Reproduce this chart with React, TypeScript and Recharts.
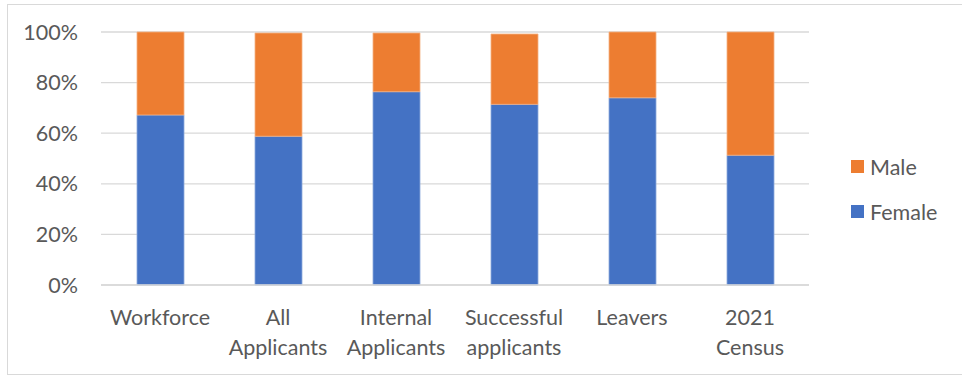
import { Bar, BarChart, CartesianGrid, XAxis, YAxis } from 'recharts';

const categories = [
  'Workforce',
  'All Applicants',
  'Internal Applicants',
  'Successful applicants',
  'Leavers',
  '2021 Census',
];
const female = [67.2, 58.8, 76.4, 71.4, 74.0, 51.3];
const male = [32.8, 40.8, 23.2, 27.8, 26.0, 48.7];
const yTicks = [0, 20, 40, 60, 80, 100];

const data = categories.map((name, i) => ({ name, Female: female[i], Male: male[i] }));

const FONT = 'Lato, "Open Sans", sans-serif';
const TEXT = '#595959';
const FS = 21.5;

function CategoryTick({ x, y, payload }: any) {
  const lines = String(payload.value).split(' ');
  return (
    <text x={x} y={y} textAnchor="middle" fill={TEXT} fontFamily={FONT} fontSize={FS}>
      {lines.map((line, i) => (
        <tspan key={i} x={x} dy={i === 0 ? 32 : 30}>
          {line}
        </tspan>
      ))}
    </text>
  );
}

function LegendBox() {
  const items = [
    { label: 'Male', color: '#ED7D31' },
    { label: 'Female', color: '#4472C4' },
  ];
  return (
    <div
      style={{
        position: 'absolute',
        left: 851,
        top: 144,
        fontFamily: FONT,
        fontSize: FS,
        color: TEXT,
      }}
    >
      {items.map((it) => (
        <div key={it.label} style={{ display: 'flex', alignItems: 'center', height: 45 }}>
          <span style={{ width: 13, height: 13, background: it.color, marginRight: 6 }} />
          {it.label}
        </div>
      ))}
    </div>
  );
}

export default function App() {
  return (
    <div style={{ position: 'absolute', left: 0, top: 0, width: 962, height: 378, background: '#fff', overflow: 'hidden' }}>
      <div
        style={{
          position: 'absolute',
          left: 7,
          top: 4,
          width: 970,
          height: 371,
          border: '1px solid #d9d9d9',
          boxSizing: 'border-box',
        }}
      />
      <BarChart
        width={962}
        height={378}
        data={data}
        margin={{ top: 32, right: 153, bottom: 33, left: 0 }}
        barSize={47}
        style={{ position: 'absolute', left: 0, top: 0 }}
      >
        <CartesianGrid vertical={false} stroke="#d9d9d9" strokeWidth={1.3} />
        <XAxis
          dataKey="name"
          height={60}
          tickLine={false}
          axisLine={{ stroke: '#d9d9d9', strokeWidth: 1.3 }}
          tick={<CategoryTick />}
          interval={0}
        />
        <YAxis
          width={101}
          domain={[0, 100]}
          ticks={yTicks}
          tickFormatter={(v) => `${v}%`}
          tickLine={false}
          axisLine={false}
          tickSize={0}
          tickMargin={23}
          tick={{ fill: TEXT, fontFamily: FONT, fontSize: FS }}
        />
        <Bar dataKey="Female" stackId="a" fill="#4472C4" stroke="#8eaadc" strokeWidth={0.8} isAnimationActive={false} />
        <Bar dataKey="Male" stackId="a" fill="#ED7D31" stroke="#f4b183" strokeWidth={0.8} isAnimationActive={false} />
      </BarChart>
      <LegendBox />
    </div>
  );
}
